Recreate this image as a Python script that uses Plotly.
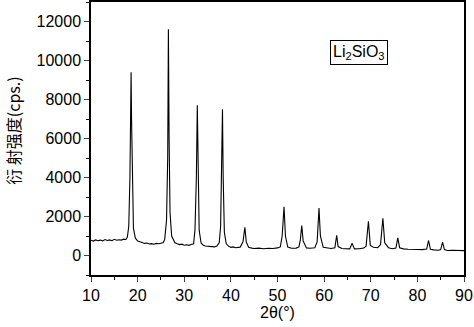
import plotly.graph_objects as go

# 2θ (degrees) and intensity (cps)
two_theta = [10.0, 10.5, 11.0, 11.5, 12.0, 12.5, 13.0, 13.5, 14.0, 14.5, 15.0, 15.5, 16.0, 16.5, 17.0, 17.5,
             17.8, 18.1, 18.35, 18.5, 18.6, 18.7, 18.85, 19.1, 19.5, 20.0, 20.5, 21.0, 21.5, 22.0, 22.5, 23.0,
             23.5, 24.0, 24.5, 25.0, 25.5, 25.8, 26.2, 26.45, 26.6, 26.75, 26.95, 27.3, 27.7, 28.0, 28.5, 29.0,
             29.5, 30.0, 30.5, 31.0, 31.5, 32.0, 32.3, 32.6, 32.8, 32.95, 33.2, 33.6, 34.0, 34.5, 35.0, 35.5,
             36.0, 36.5, 37.0, 37.5, 37.8, 38.05, 38.2, 38.35, 38.6, 39.0, 39.5, 40.0, 40.5, 41.0, 41.5, 42.0,
             42.6, 43.0, 43.3, 43.8, 44.5, 45.0, 46.0, 47.0, 48.0, 49.0, 50.0, 50.6, 51.0, 51.4, 51.7, 52.2,
             53.0, 54.0, 54.6, 54.9, 55.2, 55.5, 56.2, 57.0, 58.0, 58.5, 58.9, 59.2, 59.8, 60.5, 61.5, 62.3,
             62.7, 63.0, 63.8, 64.5, 65.5, 66.0, 66.5, 67.5, 68.5, 69.0, 69.5, 69.9, 70.6, 71.5, 72.1, 72.6,
             73.0, 73.8, 74.6, 75.4, 75.8, 76.2, 77.0, 78.0, 79.0, 80.0, 81.0, 82.0, 82.4, 82.8, 83.5, 84.5,
             85.0, 85.4, 85.8, 86.5, 87.5, 88.5, 89.3, 90.0]
intensity = [780, 740, 800, 760, 790, 750, 820, 770, 800, 760, 830, 780, 810, 790, 840, 820,
             950, 1500, 4000, 7500, 9400, 7000, 3500, 1400, 900, 740, 700, 660, 620, 640, 590, 610,
             580, 620, 600, 630, 660, 820, 1800, 5000, 11600, 6000, 2200, 1000, 760, 650, 600, 560,
             580, 530, 550, 520, 560, 600, 1300, 4000, 7700, 4000, 1300, 650, 540, 490, 470, 450,
             460, 440, 480, 650, 1500, 4500, 7500, 4000, 1200, 600, 480, 420, 440, 400, 420, 430,
             700, 1450, 700, 420, 380, 360, 380, 350, 370, 360, 390, 440, 1000, 2500, 1000, 430,
             370, 380, 440, 800, 1540, 750, 390, 370, 400, 700, 2430, 1000, 420, 380, 360, 400,
             1030, 460, 360, 350, 340, 630, 340, 350, 380, 480, 1760, 520, 420, 400, 560, 1910,
             650, 400, 350, 380, 900, 400, 340, 320, 330, 310, 300, 330, 770, 320, 290, 270,
             300, 680, 300, 260, 270, 250, 240, 250]

x_ticks = [10, 20, 30, 40, 50, 60, 70, 80, 90]
x_tick_labels = ["10", "20", "30", "40", "50", "60", "70", "80", "90"]
y_ticks = [0, 2000, 4000, 6000, 8000, 10000, 12000]
y_tick_labels = ["0", "2000", "4000", "6000", "8000", "10000", "12000"]

font_main = "Liberation Sans, Arial, sans-serif"

fig = go.Figure()
fig.add_trace(go.Scatter(x=two_theta, y=intensity, mode="lines",
                         line=dict(color="black", width=1.1), showlegend=False))

fig.update_layout(
    width=474, height=327,
    margin=dict(l=91, r=10, t=2, b=52),
    paper_bgcolor="white", plot_bgcolor="white",
    font=dict(family=font_main, size=16, color="black"),
    xaxis=dict(range=[10, 90], tickvals=x_ticks, ticktext=x_tick_labels, ticks="outside",
               ticklen=5, tickwidth=1.2, automargin=False,
               showgrid=False, zeroline=False, showline=True, linecolor="black", linewidth=1.5,
               mirror=True, minor=dict(dtick=5, ticks="outside", ticklen=3, tickcolor="black"),
               tickfont=dict(size=16),
               title=dict(text="2θ(°)", font=dict(size=16), standoff=4)),
    yaxis=dict(range=[-1000, 13000], tickvals=y_ticks, ticktext=y_tick_labels, ticks="outside",
               ticklen=5, tickwidth=1.2, automargin=False,
               showgrid=False, zeroline=False, showline=True, linecolor="black", linewidth=1.5,
               mirror=True, minor=dict(dtick=1000, ticks="outside", ticklen=3, tickcolor="black"),
               tickfont=dict(size=16)),
    annotations=[
        dict(x=67.5, y=10400, xref="x", yref="y", text="Li<sub>2</sub>SiO<sub>3</sub>",
             showarrow=False, font=dict(size=16), bordercolor="black", borderwidth=1,
             borderpad=2, bgcolor="white"),
        dict(x=-0.208, y=0.53, xref="paper", yref="paper", text="衍 射强度(cps.)",
             textangle=-90, showarrow=False, xanchor="center", yanchor="middle",
             font=dict(size=16, family="Noto Sans CJK SC, " + font_main)),
    ],
)

fig.write_html("out.html", config={"displayModeBar": False},
               post_script="document.body.style.margin='0';document.body.style.overflow='hidden';")
